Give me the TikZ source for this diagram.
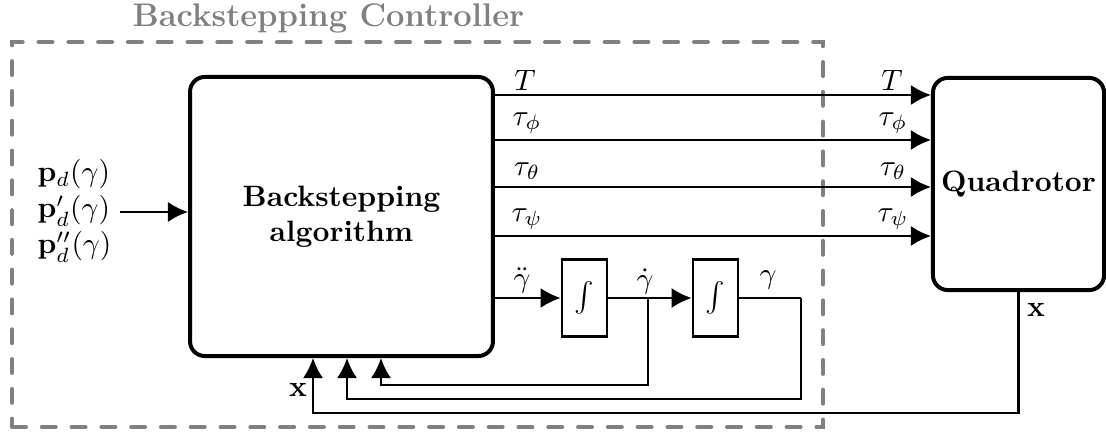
\documentclass[tikz,border=0pt]{standalone}
\usetikzlibrary{arrows.meta}
\definecolor{ctrlgray}{gray}{0.5}
\begin{document}
\begin{tikzpicture}[x=0.339pt,y=-0.339pt,
 blk/.style={draw,line width=1.35pt,rounded corners=5pt,font=\bfseries,align=center,inner sep=0pt},
 intbox/.style={draw,line width=0.9pt,minimum width=15.3pt,minimum height=26.1pt,inner sep=0pt},
 sig/.style={line width=0.75pt},
 arr/.style={sig,-{Latex[length=6.8pt,width=6.8pt]}},
 lbl/.style={inner sep=0pt},
 dashbox/.style={draw=ctrlgray,line width=1.4pt,dash pattern=on 4.7pt off 5.4pt,line cap=round,inner sep=0pt}
]
\useasboundingbox (0,0) rectangle (1106,432);

% controller frame and title
\node[dashbox,minimum width=274.9pt,minimum height=130.5pt] (ctrl) at (417.5,234.5) {};
\node[lbl,anchor=base west,text=ctrlgray,font=\fontsize{11.1}{13}\selectfont\bfseries] (title) at (132,27) {Backstepping Controller};

% blocks
\node[blk,minimum width=102.7pt,minimum height=94.6pt] (alg) at (341.5,216.5) {Backstepping\\algorithm};
\node[blk,minimum width=58pt,minimum height=71.9pt] (quad) at (1018.5,184) {Quadrotor};
\node[intbox] (int1) at (584.5,298) {$\int$};
\node[intbox] (int2) at (715.5,298) {$\int$};

% inputs
\node[lbl,anchor=west,align=left,font=\fontsize{10}{12.2}\selectfont] (inp) at (37,211)
  {$\mathbf{p}_d(\gamma)$\\$\mathbf{p}'_d(\gamma)$\\$\mathbf{p}''_d(\gamma)$};
\coordinate (inS) at (120,212);
\draw[arr] (inS) -- (inS -| alg.west);

% outputs to quadrotor
\coordinate (yT) at (0,95);
\coordinate (yP) at (0,140);
\coordinate (yQ) at (0,187);
\coordinate (yS) at (0,236);
\draw[arr] (yT -| alg.east) -- (yT -| quad.west);
\draw[arr] (yP -| alg.east) -- (yP -| quad.west);
\draw[arr] (yQ -| alg.east) -- (yQ -| quad.west);
\draw[arr] (yS -| alg.east) -- (yS -| quad.west);
\node[lbl] (lT1) at (525,80) {$T$};
\node[lbl] (lP1) at (527,123) {$\tau_\phi$};
\node[lbl] (lQ1) at (527,171) {$\tau_\theta$};
\node[lbl] (lS1) at (527,219) {$\tau_\psi$};
\node[lbl] (lT2) at (892,80) {$T$};
\node[lbl] (lP2) at (893,123) {$\tau_\phi$};
\node[lbl] (lQ2) at (893,171) {$\tau_\theta$};
\node[lbl] (lS2) at (893,219) {$\tau_\psi$};

% integrator chain
\draw[arr] (int1.west -| alg.east) -- (int1.west);
\draw[arr] (int1.east) -- (int2.west);
\node[lbl] (lgdd) at (522,281) {$\ddot\gamma$};
\node[lbl] (lgd) at (645,282) {$\dot\gamma$};
\node[lbl] (lg) at (768,280) {$\gamma$};

% feedback paths
\coordinate (gdB) at (648,298);
\coordinate (gdL) at (381,385);
\draw[arr] (gdB) |- (gdL) -- (gdL |- alg.south);
\coordinate (gR) at (801,298);
\coordinate (gL) at (347,399);
\draw[sig] (int2.east) -- (gR);
\draw[arr] (gR) |- (gL) -- (gL |- alg.south);
\coordinate (xL) at (313,413);
\draw[arr] (quad.south) |- (xL) -- (xL |- alg.south);
\node[lbl] (lx1) at (298,390) {$\mathbf{x}$};
\node[lbl] (lx2) at (1036,310) {$\mathbf{x}$};
\end{tikzpicture}
\end{document}
